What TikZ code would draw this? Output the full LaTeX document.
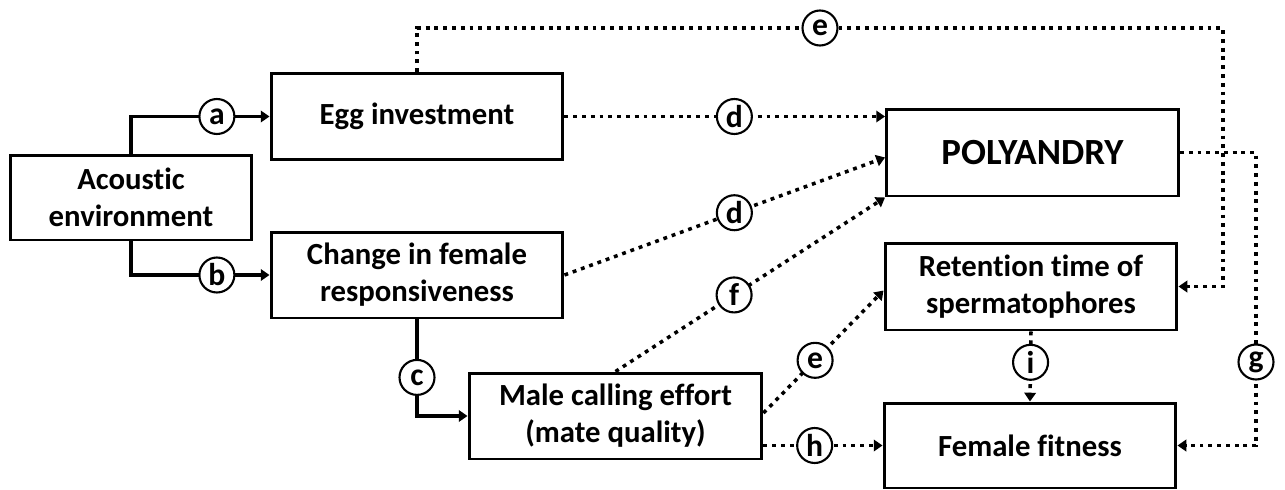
\documentclass[tikz,border=0pt]{standalone}
\usepackage{fontspec}
\setmainfont{Carlito}[Ligatures=NoCommon]
\usetikzlibrary{arrows.meta,calc}
\tikzset{box/.style = {draw, line width=1.7pt, align=center, inner sep=0pt,
                       minimum width=5.84cm, minimum height=1.72cm,
                       font=\fontsize{17.5}{21}\selectfont\bfseries},
         lbl/.style = {draw, solid, circle, fill=white, line width=1.2pt, inner sep=0pt,
                       minimum size=0.7cm, font=\fontsize{18}{18}\selectfont\bfseries},
         arr/.style = {-{Triangle[length=5pt,width=6.5pt]}},
         solidline/.style = {line width=1.8pt},
         dotline/.style = {line width=2pt, dash pattern=on 2.2pt off 2.8pt}}

\begin{document}
\begin{tikzpicture}[x=0.02cm, y=-0.02cm]
\useasboundingbox (0,0) rectangle (1285,490);
\node [box, minimum width=4.84cm, minimum height=1.7cm] (ac) at (131,197.5) {Acoustic\\environment};
\node [box] (egg) at (417,116.5) {Egg investment};
\node [box] (ch) at (417,275) {Change in female\\responsiveness};
\node [box, minimum width=5.86cm] (male) at (615.5,416) {Male calling effort\\(mate quality)};
\node [box, minimum height=1.74cm, font=\fontsize{21}{24}\selectfont\bfseries] (poly) at (1032.5,152.5) {POLYANDRY};
\node [box, minimum height=1.74cm] (ret) at (1031,286.5) {Retention time of\\spermatophores};
\node [box, minimum height=1.7cm] (ff) at (1030,445.5) {Female fitness};
\coordinate (eR) at (1223,28);
\coordinate (gC) at (1256,362);

\draw [solidline, arr] (ac.north) |- node [lbl, pos=0.81] {a} (egg.west);
\draw [solidline, arr] (ac.south) |- node [lbl, pos=0.81] {b} (ch.west);
\draw [solidline, arr] (ch.south) |- node [lbl, pos=0.3] {c} (male.west);
\draw [dotline, arr] (egg.east) -- node [lbl, pos=0.53] {d} (egg.east -| poly.west);
\draw [dotline, arr] (ch.east) -- node [lbl, pos=0.53] {d} ($(poly.west)+(0,5)$);
\draw [dotline, arr] (male.north) -- node [lbl, pos=0.44] {f} (poly.south west);
\draw [dotline, arr] (egg.north) |- node [lbl, pos=0.75] {e} (eR) |- (ret.east);
\draw [dotline, arr] ($(male.east)+(0,-3)$) -- node [lbl, pos=0.43] {e} ($(ret.west)+(0,4)$);
\draw [dotline, arr] (male.east |- ff.west) -- node [lbl, pos=0.43] {h} (ff.west);
\draw [dotline, arr] (poly.east) -| (gC) node [lbl] {g} |- (ff.east);
\draw [dotline, arr] (ret.south) -- node [lbl, pos=0.44] {i} (ff.north);
\end{tikzpicture}
\end{document}
